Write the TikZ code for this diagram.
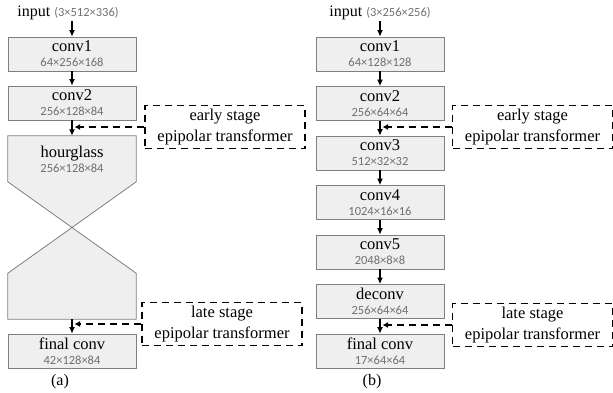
\documentclass[tikz,border=0pt]{standalone}
\usepackage{fontspec}
\setmainfont{Liberation Serif}
\newfontfamily\dimsfont{Carlito}
\usetikzlibrary{arrows.meta,calc}
\definecolor{boxfill}{HTML}{EFEFEF}
\definecolor{boxline}{HTML}{7F7F7F}
\definecolor{dimgray}{HTML}{707070}
\newcommand{\dimtxt}[1]{{\dimsfont\fontsize{12.5}{13}\selectfont\color{dimgray}#1}}
\begin{document}
\begin{tikzpicture}[x=1pt,y=-1pt,
  layer/.style={draw=boxline, fill=boxfill, line width=0.8pt,
    minimum width=128pt, minimum height=34pt, inner sep=0pt,
    align=center, font=\fontsize{16.5}{15}\selectfont},
  caption/.style={inner sep=1pt, font=\fontsize{16}{16}\selectfont},
  flow/.style={-{Latex[length=6.5pt,width=6pt]}, line width=1.4pt},
  sidebox/.style={draw, dash pattern=on 7pt off 5pt, line width=1.9pt,
    minimum width=160pt, minimum height=43pt, inner sep=0pt,
    align=center, font=\fontsize{16.5}{21}\selectfont},
  sideflow/.style={-{Latex[length=5.5pt,width=6pt]}, dash pattern=on 7pt off 5pt, line width=1.9pt}]
\useasboundingbox (0,0) rectangle (613,392);

% ---------- (a) hourglass network ----------
\node[caption] (inA) at (68,13) {input \dimtxt{(3×512×336)}};
\node[layer] (a1) at (72,54) {conv1\\\dimtxt{64×256×168}};
\node[layer] (a2) at (72,103) {conv2\\\dimtxt{256×128×84}};
\node[minimum width=128pt, minimum height=183pt, inner sep=0pt] (hg) at (72,227.5) {};
\path[draw=boxline, fill=boxfill, line width=0.8pt]
  (hg.north west) -- (hg.north east) -- ($(hg.north east)+(0,46)$) -- (hg.center)
  -- ($(hg.south east)+(0,-46)$) -- (hg.south east) -- (hg.south west)
  -- ($(hg.south west)+(0,-46)$) -- (hg.center) -- ($(hg.north west)+(0,46)$) -- cycle;
\node[align=center, font=\fontsize{16.5}{15}\selectfont] (hgt) at (72,159) {hourglass\\\dimtxt{256×128×84}};
\node[layer] (a3) at (72,351) {final conv\\\dimtxt{42×128×84}};
\node[caption] (capA) at (60,382) {(a)};

\draw[flow] (inA.south -| a1.north) -- (a1.north);
\draw[flow] (a1) -- (a2);
\draw[flow] (a2.south) -- (hg.north);
\draw[flow] (hg.south) -- (a3.north);

\node[sidebox] (ea) at (225,127) {early stage\\epipolar transformer};
\node[sidebox] (la) at (222,324) {late stage\\epipolar transformer};
\draw[sideflow] (ea.west) -- ($(ea.west -| a2.south)+(2.5,0)$);
\draw[sideflow] (la.west) -- ($(la.west -| a3.north)+(2.5,0)$);

% ---------- (b) ResNet-style network ----------
\node[caption] (inB) at (380,13) {input \dimtxt{(3×256×256)}};
\node[layer] (b1) at (380,54) {conv1\\\dimtxt{64×128×128}};
\node[layer] (b2) at (380,103.5) {conv2\\\dimtxt{256×64×64}};
\node[layer] (b3) at (380,153) {conv3\\\dimtxt{512×32×32}};
\node[layer] (b4) at (380,202.5) {conv4\\\dimtxt{1024×16×16}};
\node[layer] (b5) at (380,252) {conv5\\\dimtxt{2048×8×8}};
\node[layer] (b6) at (380,301.5) {deconv\\\dimtxt{256×64×64}};
\node[layer] (b7) at (380,351) {final conv\\\dimtxt{17×64×64}};
\node[caption] (capB) at (372,382) {(b)};

\draw[flow] (inB.south -| b1.north) -- (b1.north);
\foreach \u/\v in {b1/b2,b2/b3,b3/b4,b4/b5,b5/b6,b6/b7}
  \draw[flow] (\u) -- (\v);

\node[sidebox] (eb) at (532.5,127) {early stage\\epipolar transformer};
\node[sidebox] (lb) at (532.5,325) {late stage\\epipolar transformer};
\draw[sideflow] (eb.west) -- ($(eb.west -| b2.south)+(2.5,0)$);
\draw[sideflow] (lb.west) -- ($(lb.west -| b7.north)+(2.5,0)$);
\end{tikzpicture}
\end{document}
